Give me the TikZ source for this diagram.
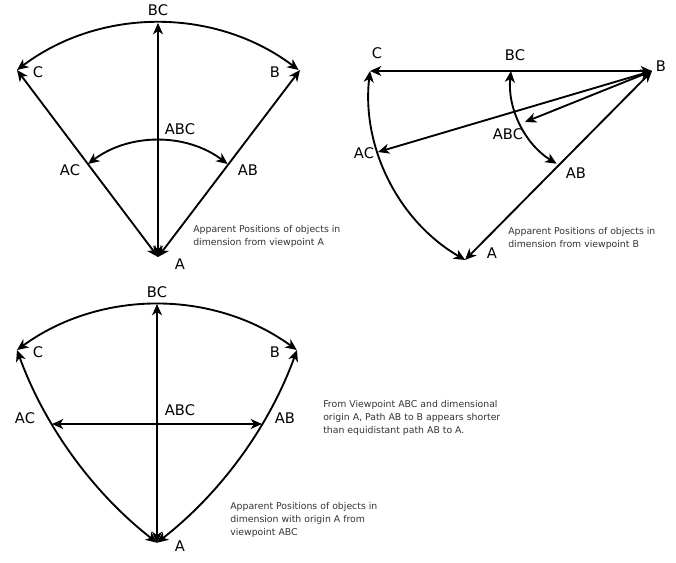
\documentclass[tikz,border=0pt]{standalone}
\usepackage{fontspec}
\setmainfont{DejaVu Sans}
\usetikzlibrary{arrows.meta}
\begin{document}
\begin{tikzpicture}[x=0.75pt,y=0.75pt,
  conn/.style={line width=1.4pt,{Stealth[length=8.5pt,width=7.5pt,inset=2.5pt]}-{Stealth[length=8.5pt,width=7.5pt,inset=2.5pt]}},
  lbl/.style={inner sep=0pt,font=\fontsize{11}{13}\selectfont},
  captext/.style={inner sep=0pt,anchor=north west,align=left,font=\fontsize{7}{9.75}\selectfont,text=black!80}]
\useasboundingbox (0,0) rectangle (676,562);
% ---------- diagram 1: viewpoint A ----------
\coordinate (A1) at (158,305);
\coordinate (BC1) at (158,539);
\coordinate (C1) at (17,492);
\coordinate (B1) at (300,492);
\coordinate (AC1) at (88,398);
\coordinate (AB1) at (228,398);
\draw[conn] (C1) arc[start angle=127,end angle=53,radius=234];
\draw[conn] (AC1) arc[start angle=127,end angle=53,radius=116];
\draw[conn] (A1) -- (C1);
\draw[conn] (A1) -- (B1);
\draw[conn] (A1) -- (BC1);
\node[lbl] (lBC1) at (158,552) {BC};
\node[lbl] (lC1) at (38,490) {C};
\node[lbl] (lB1) at (275,490) {B};
\node[lbl] (lAC1) at (70,392) {AC};
\node[lbl] (lAB1) at (248,392) {AB};
\node[lbl] (lABC1) at (180,433) {ABC};
\node[lbl] (lA1) at (180,298) {A};
\node[captext] (cap1) at (193,337) {Apparent Positions of objects in\\dimension from viewpoint A};
% ---------- diagram 2: viewpoint B ----------
\coordinate (A2) at (465,302);
\coordinate (B2) at (652,491);
\coordinate (C2) at (370,491);
\coordinate (BC2) at (511,491);
\coordinate (AC2) at (378,410);
\coordinate (ABC2) at (525,440);
\coordinate (AB2) at (558,397);
\draw[conn] (C2) -- (B2);
\draw[conn] (AC2) -- (B2);
\draw[conn] (ABC2) -- (B2);
\draw[conn] (A2) -- (B2);
\draw[conn] (C2) arc[start angle=173.5,end angle=240,radius=193];
\draw[conn] (BC2) arc[start angle=174,end angle=238.4,radius=97];
\node[lbl] (lC2) at (377,509) {C};
\node[lbl] (lBC2) at (515,507) {BC};
\node[lbl] (lB2) at (661,496) {B};
\node[lbl] (lAC2) at (364,409) {AC};
\node[lbl] (lABC2) at (508,428) {ABC};
\node[lbl] (lAB2) at (576,389) {AB};
\node[lbl] (lA2) at (492,309) {A};
\node[captext] (cap2) at (508,335) {Apparent Positions of objects in\\dimension from viewpoint B};
% ---------- diagram 3: viewpoint ABC ----------
\coordinate (A3) at (157,19);
\coordinate (BC3) at (157,258);
\coordinate (C3) at (17,212);
\coordinate (B3) at (297,212);
\coordinate (AC3) at (52,138);
\coordinate (AB3) at (262,138);
\draw[conn] (C3) arc[start angle=126,end angle=54,radius=238];
\draw[conn] (C3) arc[start angle=199.9,end angle=232.1,radius=429.6];
\draw[conn] (B3) arc[start angle=340.1,end angle=307.9,radius=429.6];
\draw[conn] (A3) -- (BC3);
\draw[conn] (AC3) -- (AB3);
\node[lbl] (lBC3) at (157,270) {BC};
\node[lbl] (lC3) at (38,210) {C};
\node[lbl] (lB3) at (275,210) {B};
\node[lbl] (lAC3) at (25,144) {AC};
\node[lbl] (lAB3) at (285,144) {AB};
\node[lbl] (lABC3) at (180,152) {ABC};
\node[lbl] (lA3) at (180,16) {A};
\node[captext] (cap3) at (323,162) {From Viewpoint ABC and dimensional\\origin A, Path AB to B appears shorter\\than equidistant path AB to A.};
\node[captext] (cap4) at (230,60) {Apparent Positions of objects in\\dimension with origin A from\\viewpoint ABC};
\end{tikzpicture}
\end{document}
